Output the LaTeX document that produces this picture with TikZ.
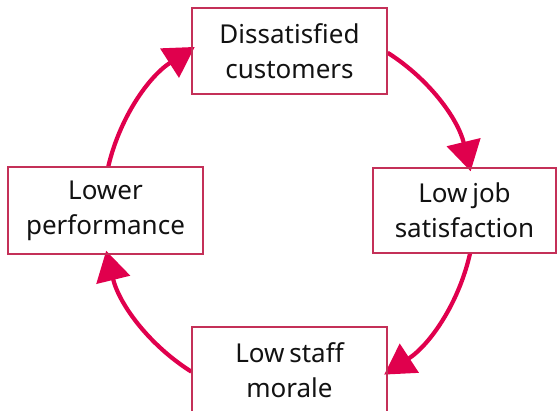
\documentclass[tikz,border=0pt]{standalone}
\usepackage{fontspec}
\setmainfont[WordSpace=0.7]{Noto Sans}
\usetikzlibrary{arrows.meta,backgrounds}
\definecolor{arrowc}{RGB}{224,0,77}
\definecolor{boxc}{RGB}{196,48,88}
\begin{document}
\begin{tikzpicture}[x=1pt,y=-1pt,
  box/.style={draw=boxc, line width=1.2pt, align=center, inner sep=0pt,
    font=\fontsize{26}{35}\selectfont, text=black!93},
  cyc/.style={draw=arrowc, line width=4.2pt,
    -{Triangle[length=30pt,width=34pt]}, shorten >=-4pt,
    bend left=22, looseness=0.9}]
\useasboundingbox (0,0) rectangle (559,410);
\node[box, minimum width=195pt, minimum height=86pt] (top) at (289.5,51) {Dissatisfied\\customers};
\node[box, minimum width=183pt, minimum height=85pt] (right) at (464.5,210.5) {Low job\\satisfaction};
\node[box, minimum width=195pt, minimum height=86pt] (bottom) at (289.5,370) {Low staff\\morale};
\node[box, minimum width=195pt, minimum height=87pt] (left) at (105.5,210.5) {Lower\\performance};
\begin{scope}[on background layer]
\draw[cyc] ([yshift=-1.7pt]top.east) to ([xshift=5.2pt]right.north);
\draw[cyc] ([xshift=5.5pt]right.south) to ([yshift=-2.4pt]bottom.east);
\draw[cyc] ([yshift=-1.7pt]bottom.west) to ([xshift=1.6pt]left.south);
\draw[cyc] ([xshift=2.8pt]left.north) to ([yshift=1.9pt]top.west);
\end{scope}
\end{tikzpicture}
\end{document}
